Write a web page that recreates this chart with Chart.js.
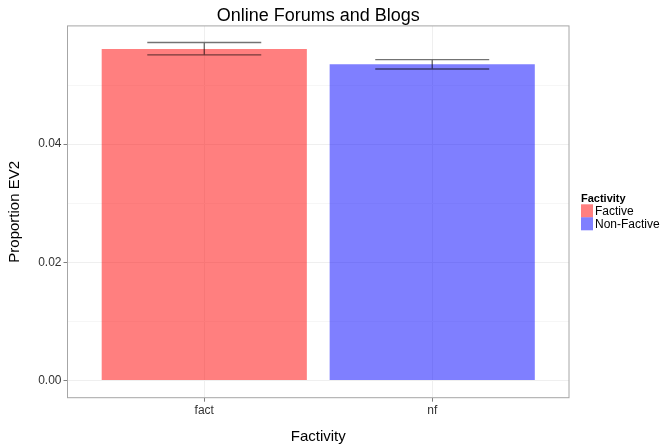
<!DOCTYPE html>
<html>
<head>
<meta charset="utf-8">
<style>
    html, body { margin: 0; padding: 0; background: #fff; }
    #wrap { width: 660px; height: 446px; }
</style>
</head>
<body>
<div id="wrap"><canvas id="ev2Chart" width="660" height="446"></canvas></div>
<script src="https://cdn.jsdelivr.net/npm/chart.js"></script>
<script>
    // 범주 및 값
    const categories = ['fact', 'nf'];
    const legendLabels = ['Factive', 'Non-Factive'];
    const proportions = [0.0561, 0.0535];
    const errLow = [0.0551, 0.0527];
    const errHigh = [0.0572, 0.0543];
    const yTickValues = [0, 0.01, 0.02, 0.03, 0.04, 0.05];
    const yTickLabels = ['0.00', '', '0.02', '', '0.04', ''];
    const barColors = ['rgba(255, 0, 0, 0.5)', 'rgba(0, 0, 255, 0.5)'];

    const FONT = '"Liberation Sans", Arial, sans-serif';

    // 패널 테두리 + 오차 막대 + 범례
    const panelPlugin = {
        id: 'panelPlugin',
        afterDatasetsDraw(chart) {
            const ctx = chart.ctx;
            const area = chart.chartArea;
            const x = chart.scales.x;
            const y = chart.scales.y;

            ctx.save();
            ctx.strokeStyle = 'rgba(0, 0, 0, 0.55)';
            ctx.lineWidth = 1.4;
            categories.forEach((c, i) => {
                const cx = x.getPixelForValue(i);
                const left = x.getPixelForValue(i - 0.25);
                const right = x.getPixelForValue(i + 0.25);
                const top = y.getPixelForValue(errHigh[i]);
                const bottom = y.getPixelForValue(errLow[i]);
                ctx.beginPath();
                ctx.moveTo(left, top); ctx.lineTo(right, top);
                ctx.moveTo(left, bottom); ctx.lineTo(right, bottom);
                ctx.moveTo(cx, top); ctx.lineTo(cx, bottom);
                ctx.stroke();
            });

            ctx.strokeStyle = '#a6a6a6';
            ctx.lineWidth = 1;
            ctx.strokeRect(area.left, area.top, area.right - area.left, area.bottom - area.top);

            // 범례
            const lx = 581;
            ctx.fillStyle = '#000';
            ctx.font = 'bold 11px ' + FONT;
            ctx.textBaseline = 'alphabetic';
            ctx.textAlign = 'left';
            ctx.fillText('Factivity', lx, 201.5);
            ctx.font = '12px ' + FONT;
            legendLabels.forEach((lab, i) => {
                const by = 204.3 + i * 13;
                ctx.fillStyle = barColors[i];
                ctx.fillRect(lx, by, 12, 13);
                ctx.fillStyle = '#000';
                ctx.fillText(lab, lx + 14, by + 10.5);
            });
            ctx.restore();
        }
    };

    new Chart(document.getElementById('ev2Chart'), {
        type: 'bar',
        data: {
            datasets: [{
                data: proportions.map((v, i) => ({ x: i, y: v })),
                backgroundColor: barColors,
                borderWidth: 0,
                barPercentage: 0.9,
                categoryPercentage: 1.0
            }]
        },
        options: {
            responsive: false,
            animation: false,
            layout: { padding: { left: 0, right: 91, top: 0, bottom: 0 } },
            plugins: {
                legend: { display: false },
                tooltip: { enabled: false },
                title: {
                    display: true,
                    text: 'Online Forums and Blogs',
                    fullSize: false,
                    color: '#000',
                    font: { family: FONT, size: 18, weight: 'normal', lineHeight: 1.05 },
                    padding: { top: 7, bottom: 0 }
                }
            },
            scales: {
                x: {
                    type: 'linear',
                    min: -0.6,
                    max: 1.6,
                    offset: false,
                    afterBuildTicks: s => { s.ticks = categories.map((c, i) => ({ value: i })); },
                    afterFit: s => { s.height = 48.3; },
                    border: { display: false },
                    grid: { offset: false, color: '#efefef', lineWidth: 1, tickLength: 4, tickColor: '#7f7f7f' },
                    ticks: {
                        callback: v => categories[v],
                        color: '#333',
                        padding: 2,
                        maxRotation: 0,
                        font: { family: FONT, size: 12 }
                    },
                    title: {
                        display: true,
                        text: 'Factivity',
                        color: '#000',
                        padding: { top: 0, bottom: 0 },
                        font: { family: FONT, size: 15, lineHeight: 1.2 }
                    }
                },
                y: {
                    min: -0.0029,
                    max: 0.06,
                    afterBuildTicks: s => { s.ticks = yTickValues.map(v => ({ value: v })); },
                    afterFit: s => { s.width = 67.5; },
                    border: { display: false },
                    grid: {
                        color: c => (c.index % 2 === 0 ? '#efefef' : '#f6f6f6'),
                        lineWidth: 1,
                        tickLength: 4,
                        tickColor: c => (c.index % 2 === 0 ? '#7f7f7f' : 'rgba(0,0,0,0)')
                    },
                    ticks: {
                        callback: (v, i) => yTickLabels[i],
                        color: '#333',
                        padding: 2,
                        font: { family: FONT, size: 12 }
                    },
                    title: {
                        display: true,
                        text: 'Proportion EV2',
                        color: '#000',
                        padding: { top: 6, bottom: 0 },
                        font: { family: FONT, size: 15, lineHeight: 1.2 }
                    }
                }
            }
        },
        plugins: [panelPlugin]
    });
</script>
</body>
</html>
